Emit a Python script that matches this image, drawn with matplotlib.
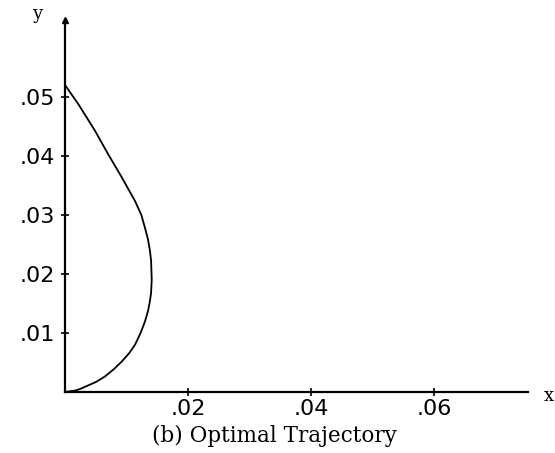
"""
Optimal trajectory in the x-y plane, panel (b)
"""
import matplotlib
matplotlib.use('Agg')
import matplotlib.pyplot as plt

# trajectory points, top to bottom
traj_x = [0.0, 0.0022, 0.0049, 0.0070, 0.0092, 0.0114, 0.0124, 0.0130, 0.0135,
          0.0138, 0.0140, 0.0141, 0.0140, 0.0138, 0.0135, 0.0130, 0.0123, 0.0114,
          0.0104, 0.0092, 0.0079, 0.0065, 0.0051, 0.0038, 0.0025, 0.0016, 0.0008, 0.0002]
traj_y = [0.0520, 0.0487, 0.0442, 0.0403, 0.0364, 0.0323, 0.0300, 0.0278, 0.0258,
          0.0240, 0.0222, 0.0190, 0.0168, 0.0153, 0.0137, 0.0119, 0.0100, 0.0080,
          0.0065, 0.0051, 0.0038, 0.0026, 0.0017, 0.0011, 0.0005, 0.0002, 0.0001, 0.0]

xticks = [0.02, 0.04, 0.06]
xtick_labels = ['.02', '.04', '.06']
yticks = [0.01, 0.02, 0.03, 0.04, 0.05]
ytick_labels = ['.01', '.02', '.03', '.04', '.05']

fig = plt.figure(figsize=(5.55, 4.53), dpi=100)
ax = fig.add_axes([0.117, 0.135, 0.835, 0.821])

ax.plot(traj_x, traj_y, color='black', lw=1.3, solid_joinstyle='round')

ax.set_xlim(0, 0.0753)
ax.set_ylim(0, 0.063)
for side in ['top', 'right']:
    ax.spines[side].set_visible(False)
for side in ['left', 'bottom']:
    ax.spines[side].set_linewidth(1.6)

ax.set_xticks(xticks)
ax.set_xticklabels(xtick_labels)
ax.set_yticks(yticks)
ax.set_yticklabels(ytick_labels)
ax.tick_params(direction='inout', length=6, width=1.2, labelsize=16, pad=4)
ax.tick_params(axis='x', pad=2)

# axis arrow head and axis names
ax.plot(0, 1, '^k', ms=5, transform=ax.transAxes, clip_on=False)
ax.text(-0.06, 1.015, 'y', transform=ax.transAxes, fontsize=13,
        family='DejaVu Serif', ha='center', va='center')
ax.text(1.045, -0.01, 'x', transform=ax.transAxes, fontsize=13,
        family='DejaVu Serif', ha='center', va='center')

fig.text(0.495, 0.038, '(b) Optimal Trajectory', fontsize=15.5,
         family='DejaVu Serif', ha='center', va='center')

fig.savefig('out.png', dpi=100)
